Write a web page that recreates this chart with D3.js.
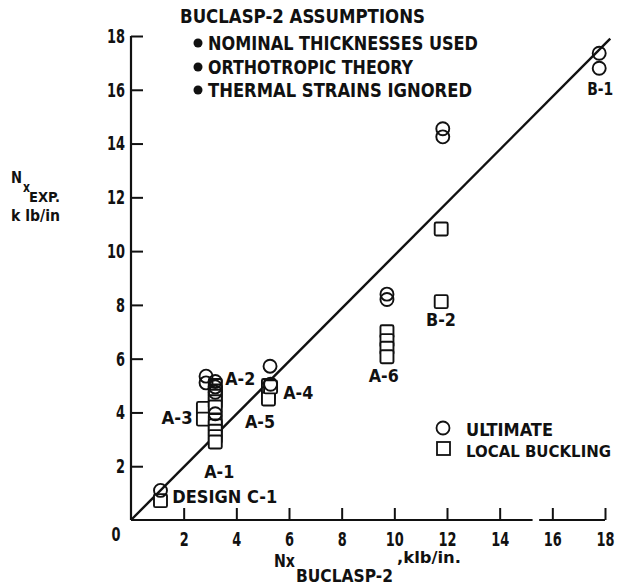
<!DOCTYPE html>
<html>
<head>
<meta charset="utf-8">
<script src="https://cdn.jsdelivr.net/npm/d3@7"></script>
<style>
  html, body { margin: 0; padding: 0; background: #fff; }
  svg { display: block; }
  text { font-family: 'DejaVu Sans', sans-serif; font-stretch: condensed; font-weight: bold; fill: #111; }
</style>
</head>
<body>
<svg id="chart" width="627" height="586"></svg>
<script>
// ---- data ----
const tickValues = [2, 4, 6, 8, 10, 12, 14, 16, 18];
const tickLabels = ["2", "4", "6", "8", "10", "12", "14", "16", "18"];

const ultimateX = [1.12, 2.85, 2.85, 3.2, 3.2, 3.2, 3.2, 5.28, 5.3, 9.72, 9.72, 11.84, 11.84, 17.78, 17.78];
const ultimateY = [1.1, 5.35, 5.1, 5.15, 4.95, 4.75, 3.95, 5.72, 5.05, 8.4, 8.2, 14.55, 14.25, 17.36, 16.8];

const bucklingX = [1.12, 2.75, 2.75, 3.2, 3.2, 3.2, 3.2, 3.2, 3.2, 3.2, 3.2, 3.2, 3.2, 5.22, 5.22, 5.22, 5.22, 5.3, 9.72, 9.72, 9.72, 9.72, 11.78, 11.78];
const bucklingY = [0.72, 4.15, 3.75, 5.0, 4.8, 4.6, 4.4, 4.2, 3.7, 3.5, 3.3, 3.1, 2.9, 5.0, 4.85, 4.7, 4.5, 4.95, 7.0, 6.67, 6.39, 6.07, 10.82, 8.12];

const lineX = [0, 18.2];
const lineY = [0, 17.9];

const pointLabels = ["A-2", "A-4", "A-3", "A-5", "A-1", "DESIGN C-1", "A-6", "B-2", "B-1"];
const pointLabelX = [4.15, 6.35, 1.75, 4.9, 3.35, 1.57, 9.6, 11.77, 17.82];
const pointLabelY = [5.2, 4.7, 3.75, 3.6, 1.75, 0.82, 5.3, 7.4, 16.0];
const labelAnchor = ["middle", "middle", "middle", "middle", "middle", "start", "middle", "middle", "middle"];
const labelWidth = [30, 30, 31, 30, 30, 105, 30, 30, 26];

const assumptionsTitle = "BUCLASP-2 ASSUMPTIONS";
const assumptions = ["NOMINAL THICKNESSES USED", "ORTHOTROPIC THEORY", "THERMAL STRAINS IGNORED"];
const legendLabels = ["ULTIMATE", "LOCAL BUCKLING"];

// ---- drawing ----
const svg = d3.select("#chart");
const x = d3.scaleLinear().domain([0, 18]).range([131, 605]);
const y = d3.scaleLinear().domain([0, 18]).range([520, 36]);

// axes lines (with small break in x axis as in the original scan)
const axisG = svg.append("g").attr("stroke", "#111").attr("stroke-width", 2.2).attr("fill", "none");
axisG.append("line").attr("x1", x(0)).attr("y1", y(0)).attr("x2", x(0)).attr("y2", y(18));
axisG.append("line").attr("x1", x(0)).attr("y1", y(0)).attr("x2", x(15.25)).attr("y2", y(0));
axisG.append("line").attr("x1", x(15.5)).attr("y1", y(0)).attr("x2", x(18)).attr("y2", y(0));

function styleTicks(g) {
  g.select(".domain").remove();
  g.selectAll(".tick line").attr("stroke", "#111").attr("stroke-width", 2);
  g.selectAll(".tick text").attr("font-size", 20).attr("fill", "#111")
    .attr("textLength", (d, i) => tickLabels[i].length * 9)
    .attr("lengthAdjust", "spacingAndGlyphs");
}

// y axis ticks (inward)
const yAxis = d3.axisLeft(y).tickValues(tickValues).tickFormat((d, i) => tickLabels[i]).tickSize(-12).tickPadding(6);
const gy = svg.append("g").attr("transform", `translate(${x(0)},0)`).call(yAxis);
gy.attr("font-family", null).attr("font-size", null);
styleTicks(gy);

// x axis ticks (inward)
const xAxis = d3.axisBottom(x).tickValues(tickValues).tickFormat((d, i) => tickLabels[i]).tickSize(-12).tickPadding(12);
const gx = svg.append("g").attr("transform", `translate(0,${y(0)})`).call(xAxis);
gx.attr("font-family", null).attr("font-size", null);
styleTicks(gx);

// shared origin label
svg.append("text").attr("x", x(0) - 15).attr("y", y(0) + 21).attr("text-anchor", "middle")
  .attr("font-size", 20).attr("textLength", 9).attr("lengthAdjust", "spacingAndGlyphs").text("0");

// 1:1 line
svg.append("line")
  .attr("x1", x(lineX[0])).attr("y1", y(lineY[0]))
  .attr("x2", x(lineX[1])).attr("y2", y(lineY[1]))
  .attr("stroke", "#111").attr("stroke-width", 2.4);

// local buckling squares
const sq = 13;
svg.append("g").selectAll("rect").data(bucklingX).join("rect")
  .attr("x", (d) => x(d) - sq / 2)
  .attr("y", (d, i) => y(bucklingY[i]) - sq / 2)
  .attr("width", sq).attr("height", sq).attr("rx", 1.5)
  .attr("fill", "#fff").attr("stroke", "#111").attr("stroke-width", 1.9);

// ultimate circles
svg.append("g").selectAll("circle").data(ultimateX).join("circle")
  .attr("cx", (d) => x(d))
  .attr("cy", (d, i) => y(ultimateY[i]))
  .attr("r", 6.5)
  .attr("fill", "none").attr("stroke", "#111").attr("stroke-width", 1.9);

// point labels
svg.append("g").selectAll("text").data(pointLabels).join("text")
  .attr("x", (d, i) => x(pointLabelX[i]))
  .attr("y", (d, i) => y(pointLabelY[i]))
  .attr("text-anchor", (d, i) => labelAnchor[i])
  .attr("dominant-baseline", "middle")
  .attr("font-size", 18)
  .attr("textLength", (d, i) => labelWidth[i])
  .attr("lengthAdjust", "spacingAndGlyphs")
  .text((d) => d);

// assumptions block
svg.append("text").attr("x", 180).attr("y", 23).attr("font-size", 19)
  .attr("textLength", 245).attr("lengthAdjust", "spacingAndGlyphs").text(assumptionsTitle);
const assumptionWidths = [270, 205, 264];
const assumptionBase = [50, 74, 97];
assumptions.forEach((t, i) => {
  svg.append("circle").attr("cx", 198).attr("cy", assumptionBase[i] - 7).attr("r", 4.5).attr("fill", "#111");
  svg.append("text").attr("x", 208).attr("y", assumptionBase[i]).attr("font-size", 19)
    .attr("textLength", assumptionWidths[i]).attr("lengthAdjust", "spacingAndGlyphs").text(t);
});

// legend
svg.append("circle").attr("cx", 443).attr("cy", 428).attr("r", 6.5)
  .attr("fill", "none").attr("stroke", "#111").attr("stroke-width", 1.8);
svg.append("rect").attr("x", 437).attr("y", 442).attr("width", 13).attr("height", 13)
  .attr("fill", "none").attr("stroke", "#111").attr("stroke-width", 1.8);
svg.append("text").attr("x", 466).attr("y", 436).attr("font-size", 18)
  .attr("textLength", 87).attr("lengthAdjust", "spacingAndGlyphs").text(legendLabels[0]);
svg.append("text").attr("x", 466).attr("y", 457).attr("font-size", 16)
  .attr("textLength", 145).attr("lengthAdjust", "spacingAndGlyphs").text(legendLabels[1]);

// y axis title: N x EXP. / k lb/in
svg.append("text").attr("x", 11).attr("y", 183).attr("font-size", 16)
  .attr("textLength", 11).attr("lengthAdjust", "spacingAndGlyphs").text("N");
svg.append("text").attr("x", 23).attr("y", 192).attr("font-size", 14)
  .attr("textLength", 7).attr("lengthAdjust", "spacingAndGlyphs").text("x");
svg.append("text").attr("x", 29).attr("y", 202).attr("font-size", 14)
  .attr("textLength", 31).attr("lengthAdjust", "spacingAndGlyphs").text("EXP.");
svg.append("text").attr("x", 11).attr("y", 221).attr("font-size", 15)
  .attr("textLength", 49).attr("lengthAdjust", "spacingAndGlyphs").text("k lb/in");

// x axis title: Nx BUCLASP-2 ,klb/in.
svg.append("text").attr("x", 274).attr("y", 567).attr("font-size", 18)
  .attr("textLength", 21).attr("lengthAdjust", "spacingAndGlyphs").text("Nx");
svg.append("text").attr("x", 296).attr("y", 582).attr("font-size", 18)
  .attr("textLength", 97).attr("lengthAdjust", "spacingAndGlyphs").text("BUCLASP-2");
svg.append("text").attr("x", 397).attr("y", 563).attr("font-size", 15)
  .attr("textLength", 64).attr("lengthAdjust", "spacingAndGlyphs").text(",klb/in.");
</script>
</body>
</html>
